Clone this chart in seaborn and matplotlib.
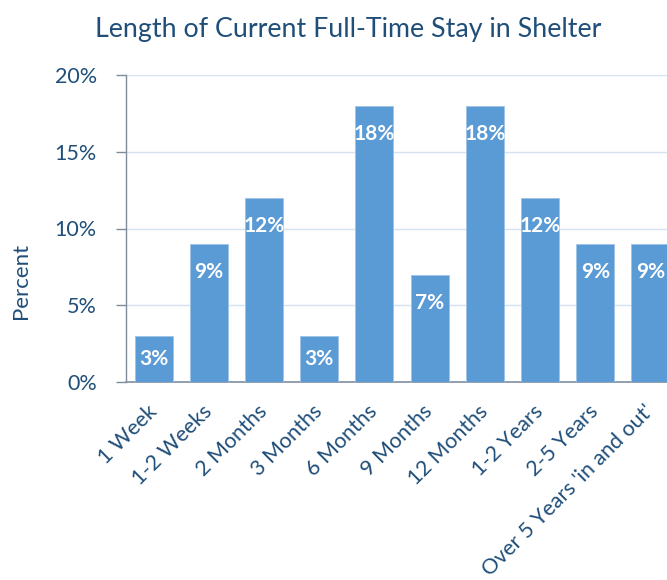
import matplotlib
matplotlib.use("Agg")
import matplotlib.pyplot as plt
import seaborn as sns
import pandas as pd
from matplotlib.ticker import FuncFormatter

categories = ["1 Week", "1-2 Weeks", "2 Months", "3 Months", "6 Months", "9 Months",
              "12 Months", "1-2 Years", "2-5 Years", "Over 5 Years 'in and out'"]
values = [3, 9, 12, 3, 18, 7, 18, 12, 9, 9]
yticks = [0, 5, 10, 15, 20]

df = pd.DataFrame({"cat": categories, "val": values})

sns.set_theme(style="white")
plt.rcParams['font.family'] = ['Lato', 'DejaVu Sans']
txt = "#1F4E79"
bar_c = "#5B9BD5"

fig = plt.figure(figsize=(6.67, 5.8), dpi=100)
ax = fig.add_axes([126/667, 1-382/580, (667-126)/667, (382-75)/580])

sns.barplot(data=df, x="cat", y="val", color=bar_c, width=0.69, saturation=1,
            edgecolor="#9DC3E6", linewidth=0.6, ax=ax, zorder=3)

ax.set_ylim(0, 20)
ax.set_xlim(-0.5, 9.3)
ax.set_yticks(yticks)
ax.yaxis.set_major_formatter(FuncFormatter(lambda v, p: f"{int(v)}%"))
ax.grid(axis="y", color="#D6E2F2", linewidth=1, zorder=0)
ax.set_axisbelow(True)
for s in ["top", "right"]:
    ax.spines[s].set_visible(False)
ax.spines["left"].set_color("#7F8C99")
ax.spines["bottom"].set_color("#8A97A8")
ax.spines["left"].set_linewidth(1)
ax.spines["bottom"].set_linewidth(1.3)
ax.tick_params(axis="y", left=True, length=7, width=1, color="#7F8C99",
               labelsize=15.5, labelcolor=txt, pad=14)
ax.tick_params(axis="x", bottom=False, labelsize=15.5, labelcolor=txt, pad=13)
plt.setp(ax.get_xticklabels(), rotation=45, ha="right", va="center",
         rotation_mode="anchor")
ax.set_xlabel("")
ax.set_ylabel("Percent", fontsize=16, color=txt)
ax.yaxis.set_label_coords(-0.175, 0.329)

for i, v in enumerate(values):
    y = v / 2 if v <= 4 else v - 1.85
    ax.text(i, y, f"{v}%", ha="center", va="center", color="white", fontsize=15,
            fontweight="bold", zorder=5)

fig.text(348/667, 1-30/580, "Length of Current Full-Time Stay in Shelter",
         ha="center", va="center", fontsize=19.3, color=txt)

fig.savefig("out.png", dpi=100)
